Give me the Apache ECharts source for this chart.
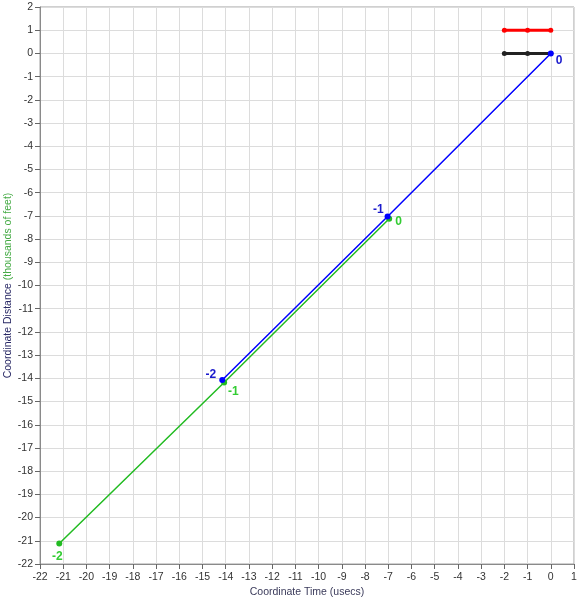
<!DOCTYPE html>
<html><head><meta charset="utf-8">
<script src="https://cdn.jsdelivr.net/npm/echarts@6/dist/echarts.min.js"></script>
<style>html,body{margin:0;padding:0;background:#fff}#c{width:585px;height:600px}</style>
</head><body><div id="c"></div>
<script>
const blueX = [0, -7.03, -14.15];
const blueY = [0, -7.03, -14.07];
const blueLabels = ['0', '-1', '-2'];
const greenX = [-6.96, -14.07, -21.17];
const greenY = [-7.12, -14.18, -21.12];
const greenLabels = ['0', '-1', '-2'];
const redX = [-2, -1, 0];
const redY = [1, 1, 1];
const blackX = [-2, -1, 0];
const blackY = [0, 0, 0];

const font = '"Liberation Sans", Arial, sans-serif';
function pts(xs, ys) { return xs.map((x, i) => [x, ys[i]]); }
const bluePos = [{position: 'right', offset: [-2, 7]}, {position: 'left', offset: [3, -7]}, {position: 'left', offset: [1, -5]}];
const greenPos = [{position: 'right', offset: [-1, 3]}, {position: 'right', offset: [-3, 9]}, {position: 'bottom', offset: [-2, 0]}];

function labeled(xs, ys, labels, pos, color) {
  return pts(xs, ys).map((p, i) => ({
    value: p,
    label: Object.assign({show: true, formatter: labels[i], color: color, fontSize: 12, fontWeight: 'bold', fontFamily: font, distance: 4}, pos[i])
  }));
}

const chart = echarts.init(document.getElementById('c'), null, {renderer: 'canvas'});
chart.setOption({
  animation: false,
  backgroundColor: '#fff',
  grid: {left: 40, right: 11, top: 7, bottom: 36, show: true, borderColor: '#a0a0a0', borderWidth: 1, containLabel: false, outerBoundsMode: 'none'},
  xAxis: {
    type: 'value', min: -22, max: 1, interval: 1,
    name: 'Coordinate Time (usecs)', nameLocation: 'middle', nameGap: 23, nameMoveOverlap: false,
    nameTextStyle: {color: '#3a3a5a', fontSize: 10.5, fontFamily: font},
    axisLine: {onZero: false, lineStyle: {color: '#8a8a8a'}},
    axisTick: {show: true, length: 5, lineStyle: {color: '#666'}},
    axisLabel: {color: '#333', fontSize: 10.5, fontFamily: font, margin: 8},
    splitLine: {show: true, lineStyle: {color: '#dcdcdc'}}
  },
  yAxis: {
    type: 'value', min: -22, max: 2, interval: 1,
    name: '{a|Coordinate Distance }{b|(thousands of feet)}', nameLocation: 'middle', nameGap: 26, nameMoveOverlap: false,
    nameTextStyle: {fontSize: 10.5, fontFamily: font, rich: {a: {color: '#2a2a66', fontSize: 10.5, fontFamily: font}, b: {color: '#44aa44', fontSize: 10.5, fontFamily: font}}},
    axisLine: {onZero: false, lineStyle: {color: '#8a8a8a'}},
    axisTick: {show: true, length: 5, lineStyle: {color: '#666'}},
    axisLabel: {color: '#333', fontSize: 10.5, fontFamily: font, margin: 7},
    splitLine: {show: true, lineStyle: {color: '#dcdcdc'}}
  },
  series: [
    {type: 'line', data: pts(redX, redY), color: '#ff0000', lineStyle: {width: 3}, symbol: 'circle', symbolSize: 5, itemStyle: {color: '#ff0000'}},
    {type: 'line', data: pts(blackX, blackY), color: '#222', lineStyle: {width: 3}, symbol: 'circle', symbolSize: 5, itemStyle: {color: '#222'}},
    {type: 'line', data: labeled(greenX, greenY, greenLabels, greenPos, '#33cc33'), color: '#22bb22', lineStyle: {width: 1.5, color: '#22bb22'}, symbol: 'circle', symbolSize: 6, itemStyle: {color: '#22bb22'}},
    {type: 'line', data: labeled(blueX, blueY, blueLabels, bluePos, '#1a1acc'), color: '#0000ff', lineStyle: {width: 1.5, color: '#0000ff'}, symbol: 'circle', symbolSize: 6, itemStyle: {color: '#0000ff'}}
  ]
});
</script></body></html>
